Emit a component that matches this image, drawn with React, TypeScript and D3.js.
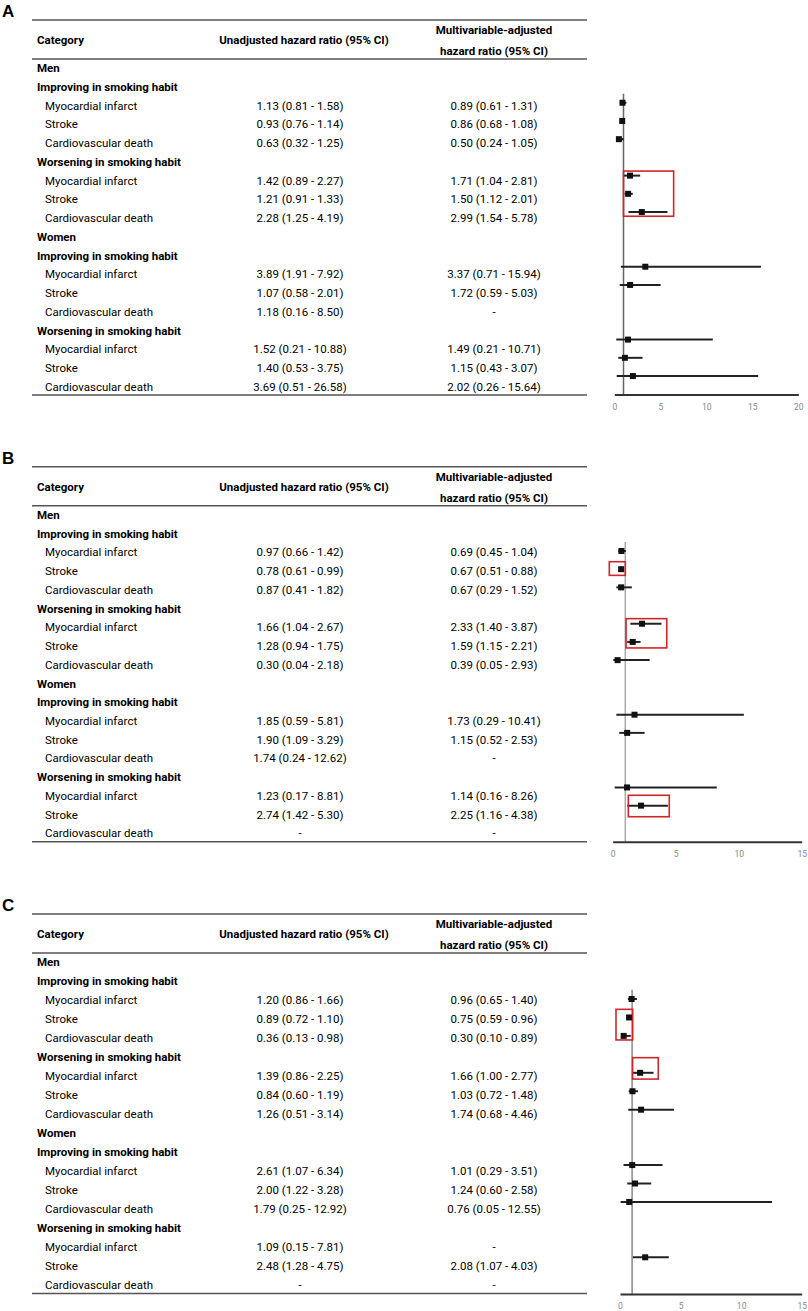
import React, { useEffect, useRef } from "react";
import * as d3 from "d3";

// ---------- DATA ----------
const rowLabels: string[] = [
  "Men",
  "Improving in smoking habit",
  "Myocardial infarct",
  "Stroke",
  "Cardiovascular death",
  "Worsening in smoking habit",
  "Myocardial infarct",
  "Stroke",
  "Cardiovascular death",
  "Women",
  "Improving in smoking habit",
  "Myocardial infarct",
  "Stroke",
  "Cardiovascular death",
  "Worsening in smoking habit",
  "Myocardial infarct",
  "Stroke",
  "Cardiovascular death",
];
const groupRows: number[] = [0, 1, 5, 9, 10, 14];
const outcomeRows: number[] = [2, 3, 4, 6, 7, 8, 11, 12, 13, 15, 16, 17];

const headerCategory = "Category";
const headerUnadj = "Unadjusted hazard ratio (95% CI)";
const headerAdj1 = "Multivariable-adjusted";
const headerAdj2 = "hazard ratio (95% CI)";

type CI = [number, number, number] | null;

// Panel A
const unadjA: CI[] = [
  [1.13, 0.81, 1.58], [0.93, 0.76, 1.14], [0.63, 0.32, 1.25],
  [1.42, 0.89, 2.27], [1.21, 0.91, 1.33], [2.28, 1.25, 4.19],
  [3.89, 1.91, 7.92], [1.07, 0.58, 2.01], [1.18, 0.16, 8.5],
  [1.52, 0.21, 10.88], [1.4, 0.53, 3.75], [3.69, 0.51, 26.58],
];
const adjA: CI[] = [
  [0.89, 0.61, 1.31], [0.86, 0.68, 1.08], [0.5, 0.24, 1.05],
  [1.71, 1.04, 2.81], [1.5, 1.12, 2.01], [2.99, 1.54, 5.78],
  [3.37, 0.71, 15.94], [1.72, 0.59, 5.03], null,
  [1.49, 0.21, 10.71], [1.15, 0.43, 3.07], [2.02, 0.26, 15.64],
];
// Panel B
const unadjB: CI[] = [
  [0.97, 0.66, 1.42], [0.78, 0.61, 0.99], [0.87, 0.41, 1.82],
  [1.66, 1.04, 2.67], [1.28, 0.94, 1.75], [0.3, 0.04, 2.18],
  [1.85, 0.59, 5.81], [1.9, 1.09, 3.29], [1.74, 0.24, 12.62],
  [1.23, 0.17, 8.81], [2.74, 1.42, 5.3], null,
];
const adjB: CI[] = [
  [0.69, 0.45, 1.04], [0.67, 0.51, 0.88], [0.67, 0.29, 1.52],
  [2.33, 1.4, 3.87], [1.59, 1.15, 2.21], [0.39, 0.05, 2.93],
  [1.73, 0.29, 10.41], [1.15, 0.52, 2.53], null,
  [1.14, 0.16, 8.26], [2.25, 1.16, 4.38], null,
];
// Panel C
const unadjC: CI[] = [
  [1.2, 0.86, 1.66], [0.89, 0.72, 1.1], [0.36, 0.13, 0.98],
  [1.39, 0.86, 2.25], [0.84, 0.6, 1.19], [1.26, 0.51, 3.14],
  [2.61, 1.07, 6.34], [2.0, 1.22, 3.28], [1.79, 0.25, 12.92],
  [1.09, 0.15, 7.81], [2.48, 1.28, 4.75], null,
];
const adjC: CI[] = [
  [0.96, 0.65, 1.4], [0.75, 0.59, 0.96], [0.3, 0.1, 0.89],
  [1.66, 1.0, 2.77], [1.03, 0.72, 1.48], [1.74, 0.68, 4.46],
  [1.01, 0.29, 3.51], [1.24, 0.6, 2.58], [0.76, 0.05, 12.55],
  null, [2.08, 1.07, 4.03], null,
];

const ticksA: number[] = [0, 5, 10, 15, 20];
const ticksB: number[] = [0, 5, 10, 15];
const ticksC: number[] = [0, 5, 10, 15];

// highlighted regions (row index range, HR range)
type Box = { rowFrom: number; rowTo: number; lo: number; hi: number };
const boxesA: Box[] = [{ rowFrom: 5.75, rowTo: 8.23, lo: 1.0, hi: 6.45 }];
const boxesB: Box[] = [
  { rowFrom: 2.59, rowTo: 3.34, lo: -0.27, hi: 1.0 },
  { rowFrom: 5.72, rowTo: 7.33, lo: 1.06, hi: 4.29 },
  { rowFrom: 15.43, rowTo: 16.61, lo: 1.24, hi: 4.49 },
];
const boxesC: Box[] = [
  { rowFrom: 2.56, rowTo: 4.22, lo: -0.33, hi: 1.05 },
  { rowFrom: 5.18, rowTo: 6.34, lo: 1.04, hi: 3.16 },
];

// ---------- LAYOUT ----------
const W = 808;
const H = 1311;
const FONT = "Roboto, 'Noto Sans', sans-serif";
const FS = 11.5;
const tableLeft = 32;
const tableRight = 587;
const col1X = 300;
const col2X = 494;

type Layout = {
  label: string;
  top: number;
  rowStep: number;
  xRange: [number, number];
  axisY: number;
  plotRow0: number;
  plotStep: number;
  refColor: string;
  ticks: number[];
  unadj: CI[];
  adj: CI[];
  boxes: Box[];
};

const panels: Layout[] = [
  { label: "A", top: 20, rowStep: 18.73, xRange: [614.3, 798.3], axisY: 394.5, plotRow0: 66.3, plotStep: 18.22, refColor: "#666", ticks: ticksA, unadj: unadjA, adj: adjA, boxes: boxesA },
  { label: "B", top: 466.7, rowStep: 18.73, xRange: [612.7, 801.7], axisY: 841.7, plotRow0: 514.6, plotStep: 18.19, refColor: "#aaa", ticks: ticksB, unadj: unadjB, adj: adjB, boxes: boxesB },
  { label: "C", top: 914, rowStep: 19.0, xRange: [620, 801.7], axisY: 1294, plotRow0: 962.1, plotStep: 18.45, refColor: "#888", ticks: ticksC, unadj: unadjC, adj: adjC, boxes: boxesC },
];

const fmt = (c: CI) =>
  c ? `${c[0].toFixed(2)} (${c[1].toFixed(2)} - ${c[2].toFixed(2)})` : "-";

function Axis({ scale, y, ticks }: { scale: d3.ScaleLinear<number, number>; y: number; ticks: number[] }) {
  const ref = useRef<SVGGElement>(null);
  useEffect(() => {
    if (!ref.current) return;
    const g = d3.select(ref.current);
    g.call(d3.axisBottom(scale).tickValues(ticks).tickSize(0).tickPadding(9).tickFormat(d3.format("d")) as any);
    g.select(".domain").attr("stroke", "#333").attr("stroke-width", 2);
    g.selectAll("text").attr("fill", "#888").attr("font-size", 8.5).attr("font-family", FONT);
  }, [scale, y, ticks]);
  return <g ref={ref} transform={`translate(0,${y})`} />;
}

function Panel({ p }: { p: Layout }) {
  const x = d3.scaleLinear().domain([p.ticks[0], p.ticks[p.ticks.length - 1]]).range(p.xRange);
  const yTable = d3.scaleLinear().domain([0, 1]).range([p.top + 48.3, p.top + 48.3 + p.rowStep]);
  const yPlot = d3.scaleLinear().domain([0, 1]).range([p.plotRow0, p.plotRow0 + p.plotStep]);
  const lastRow = yTable(rowLabels.length - 1);
  const bottomLine = lastRow + 8.3;
  return (
    <g fontFamily={FONT}>
      <text x={2} y={p.top - 3} fontFamily="'Liberation Sans', Arial, sans-serif" fontWeight="bold" fontSize={17} fill="#000">
        {p.label}
      </text>
      <line x1={tableLeft} x2={tableRight} y1={p.top} y2={p.top} stroke="#555" strokeWidth={1.5} />
      <line x1={tableLeft} x2={tableRight} y1={p.top + 39} y2={p.top + 39} stroke="#555" strokeWidth={1.5} />
      <line x1={tableLeft} x2={tableRight} y1={bottomLine} y2={bottomLine} stroke="#555" strokeWidth={1.5} />
      <g fontWeight="bold" fontSize={FS} fill="#000" dominantBaseline="central">
        <text x={37} y={p.top + 20}>{headerCategory}</text>
        <text x={col1X + 4} y={p.top + 20} textAnchor="middle">{headerUnadj}</text>
        <text x={col2X} y={p.top + 10} textAnchor="middle">{headerAdj1}</text>
        <text x={col2X} y={p.top + 31} textAnchor="middle">{headerAdj2}</text>
      </g>
      {rowLabels.map((lab, i) => {
        const isGroup = groupRows.includes(i);
        return (
          <text key={"l" + i} x={isGroup ? 37 : 45} y={yTable(i)} dominantBaseline="central" fontSize={FS}
            fontWeight={isGroup ? "bold" : "normal"} fill="#000">
            {lab}
          </text>
        );
      })}
      {outcomeRows.map((r, k) => (
        <g key={"v" + r} fontSize={FS} fill="#000" dominantBaseline="central" textAnchor="middle">
          <text x={col1X} y={yTable(r)}>{fmt(p.unadj[k])}</text>
          <text x={col2X} y={yTable(r)}>{fmt(p.adj[k])}</text>
        </g>
      ))}
      {/* forest plot */}
      <line x1={x(1)} x2={x(1)} y1={yPlot(1.5)} y2={p.axisY} stroke={p.refColor} strokeWidth={1.5} />
      {outcomeRows.map((r, k) => {
        const c = p.adj[k];
        if (!c) return null;
        const yy = yPlot(r);
        return (
          <g key={"f" + r}>
            <line x1={x(c[1])} x2={x(c[2])} y1={yy} y2={yy} stroke="#222" strokeWidth={2} />
            <rect x={x(c[0]) - 3} y={yy - 3} width={6} height={6} fill="#111" />
          </g>
        );
      })}
      {p.boxes.map((b, i) => (
        <rect key={"b" + i} x={x(b.lo)} y={yPlot(b.rowFrom)} width={x(b.hi) - x(b.lo)}
          height={yPlot(b.rowTo) - yPlot(b.rowFrom)} fill="none" stroke="#d0262b" strokeWidth={1.6} />
      ))}
      <Axis scale={x} y={p.axisY} ticks={p.ticks} />
    </g>
  );
}

export default function App() {
  return (
    <svg width={W} height={H} viewBox={`0 0 ${W} ${H}`}
      style={{ position: "absolute", left: 0, top: 0, background: "#fff" }}>
      <rect width={W} height={H} fill="#fff" />
      {panels.map((p) => (
        <Panel key={p.label} p={p} />
      ))}
    </svg>
  );
}
